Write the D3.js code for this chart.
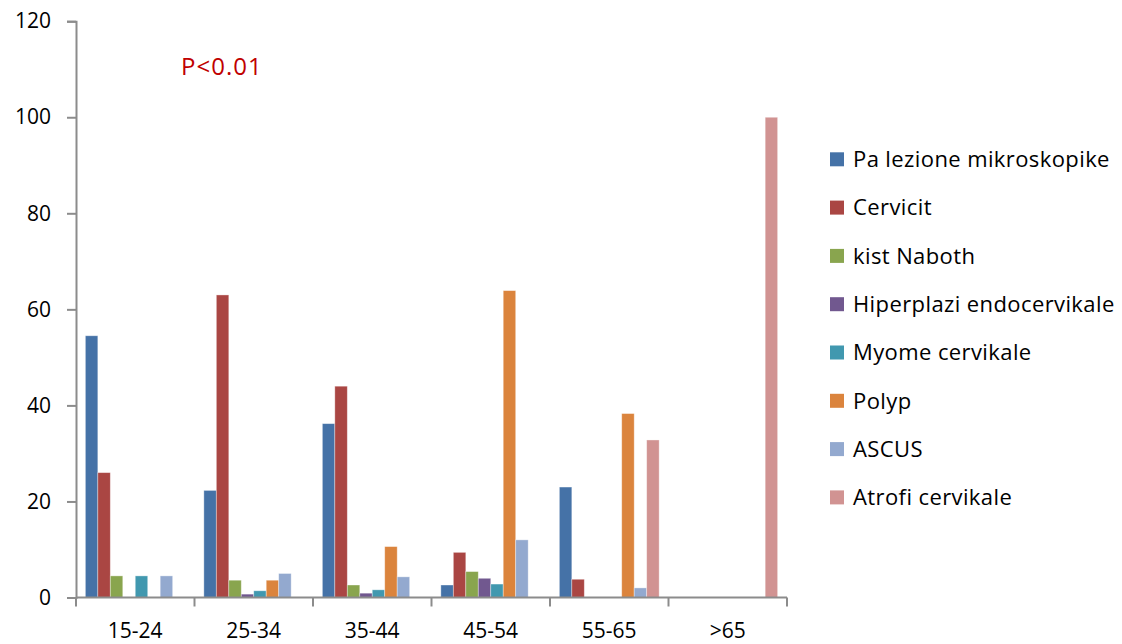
<!DOCTYPE html>
<html>
<head>
<meta charset="utf-8">
<script src="https://cdn.jsdelivr.net/npm/d3@7"></script>
<style>
  html, body { margin: 0; padding: 0; background: #fff; }
  svg { display: block; }
  text { font-family: "Open Sans", "Liberation Sans", sans-serif; }
</style>
</head>
<body>
<svg id="chart" width="1122" height="644"></svg>
<script>
// Age groups on the x axis
const ageGroups = ["15-24", "25-34", "35-44", "45-54", "55-65", ">65"];

// Diagnosis series (percent of each age group)
const seriesNames = [
  "Pa lezione mikroskopike",
  "Cervicit",
  "kist Naboth",
  "Hiperplazi endocervikale",
  "Myome cervikale",
  "Polyp",
  "ASCUS",
  "Atrofi cervikale"
];
const paLezione   = [54.5, 22.3, 36.2,  2.6, 23.0,   0];
const cervicit    = [26.0, 63.0, 44.0,  9.4,  3.8,   0];
const kistNaboth  = [ 4.5,  3.6,  2.6,  5.4,    0,   0];
const hiperplazi  = [   0,  0.7,  0.9,  4.0,    0,   0];
const myome       = [ 4.5,  1.4,  1.6,  2.8,    0,   0];
const polyp       = [   0,  3.6, 10.6, 63.9, 38.3,   0];
const ascus       = [ 4.5,  5.0,  4.3, 12.0,  2.0,   0];
const atrofi      = [   0,    0,    0,    0, 32.8, 100];
const seriesValues = [paLezione, cervicit, kistNaboth, hiperplazi, myome, polyp, ascus, atrofi];

const seriesColors = ["#4572A7", "#AA4643", "#89A54E", "#71588F", "#4198AF", "#DB843D", "#93A9CF", "#D19392"];

const yTicks = [0, 20, 40, 60, 80, 100, 120];
const annotation = "P<0.01";

const svg = d3.select("#chart");
const axisColor = "#8c8c8c";

const x = d3.scaleBand().domain(ageGroups).range([76, 787]).paddingInner(0).paddingOuter(0);
const xInner = d3.scaleBand().domain(seriesNames).range([0, x.bandwidth()]).paddingInner(0).paddingOuter(0.75);
const y = d3.scaleLinear().domain([0, 120]).range([597.5, 21.2]);
const color = d3.scaleOrdinal().domain(seriesNames).range(seriesColors);

// Bars
const groups = svg.append("g").selectAll("g")
  .data(ageGroups)
  .join("g")
  .attr("transform", d => `translate(${x(d)},0)`);

groups.selectAll("rect")
  .data((g, gi) => seriesNames.map((s, si) => ({ s, v: seriesValues[si][gi] })))
  .join("rect")
  .filter(d => d.v > 0)
  .attr("x", d => xInner(d.s))
  .attr("width", xInner.bandwidth())
  .attr("y", d => y(d.v))
  .attr("height", d => y(0) - y(d.v))
  .attr("fill", d => color(d.s))
  .attr("stroke", "rgba(255,255,255,0.45)")
  .attr("stroke-width", 0.8);

// Y axis
const yAxis = svg.append("g")
  .attr("transform", "translate(76,0)")
  .call(d3.axisLeft(y).tickValues(yTicks).tickSize(9).tickPadding(16).tickFormat(d3.format("d")));
yAxis.select(".domain").attr("stroke", axisColor).attr("stroke-width", 2);
yAxis.selectAll(".tick line").attr("stroke", axisColor).attr("stroke-width", 2);
yAxis.selectAll(".tick text")
  .attr("fill", "#000")
  .style("font-size", "21px")
  .style("font-family", "\"Open Sans\", sans-serif");

// X axis: ticks on category boundaries, labels centred in each band
const xAxisG = svg.append("g").attr("transform", `translate(0,${y(0)})`);
xAxisG.append("line")
  .attr("x1", 76).attr("x2", 787)
  .attr("stroke", axisColor).attr("stroke-width", 2);
const boundaries = ageGroups.map(d => x(d)).concat([x(ageGroups[ageGroups.length - 1]) + x.bandwidth()]);
xAxisG.selectAll("line.tick")
  .data(boundaries)
  .join("line")
  .attr("class", "tick")
  .attr("x1", d => d).attr("x2", d => d)
  .attr("y1", 0).attr("y2", 9)
  .attr("stroke", axisColor).attr("stroke-width", 2);
xAxisG.selectAll("text")
  .data(ageGroups)
  .join("text")
  .attr("x", d => x(d) + x.bandwidth() / 2)
  .attr("y", 40)
  .attr("text-anchor", "middle")
  .attr("fill", "#000")
  .style("font-size", "21px")
  .text(d => d);

// Significance annotation
svg.append("text")
  .attr("x", 181)
  .attr("y", 75)
  .attr("fill", "#C00000")
  .style("font-size", "24px")
  .style("letter-spacing", "1px")
  .text(annotation);

// Legend
const legend = svg.append("g").selectAll("g")
  .data(seriesNames)
  .join("g")
  .attr("transform", (d, i) => `translate(830,${159.3 + i * 48.3})`);
legend.append("rect")
  .attr("x", 0).attr("y", -7)
  .attr("width", 14).attr("height", 14)
  .attr("fill", d => color(d));
legend.append("text")
  .attr("x", 23)
  .attr("y", 0)
  .attr("dy", "0.35em")
  .attr("fill", "#000")
  .style("font-size", "22px")
  .style("letter-spacing", "0.4px")
  .text(d => d);
</script>
</body>
</html>
